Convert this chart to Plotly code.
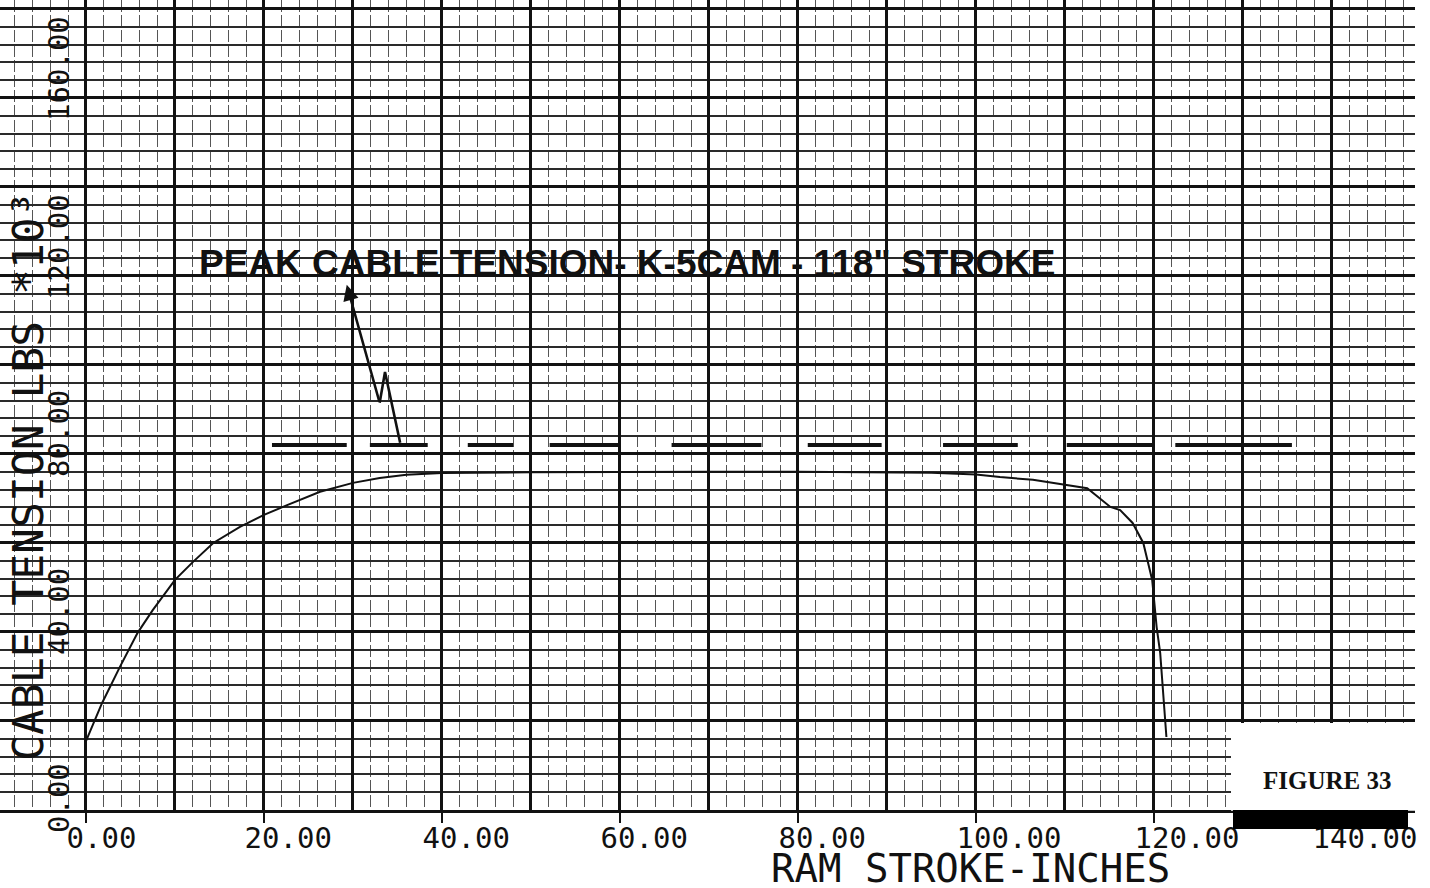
import plotly.graph_objects as go

# ---------------- data ----------------
stroke_in = [0, 1.8, 3.8, 5.8, 7.5, 10, 12, 14.3, 17.3, 20, 22.6, 26.3, 30, 33, 36, 40,
             50, 60, 70, 80, 90, 95, 100, 102.7, 106.4, 110.2, 112.5, 115.1, 116.2,
             117.6, 118.8, 119.8, 120.3, 120.7, 121.0, 121.4]
tension_klb = [15.5, 24.0, 32.1, 39.8, 44.9, 51.7, 55.7, 60.0, 63.6, 66.3, 68.5, 71.5, 73.5,
               74.6, 75.3, 75.7, 75.9, 76.0, 76.0, 76.0, 75.9, 75.8, 75.4, 74.8, 74.2,
               73.0, 72.3, 68.1, 67.4, 64.5, 60.0, 51.7, 41.1, 35.3, 26.3, 16.4]

peak_tension = 82.0
peak_dash_start = [20.9, 31.9, 42.9, 52.1, 65.8, 81.1, 96.3, 110.2, 122.4]
peak_dash_end = [29.3, 38.4, 48.0, 60.0, 75.9, 89.4, 104.7, 119.9, 135.5]

x_tick_vals = [0, 20, 40, 60, 80, 100, 120, 140]
x_tick_labels = ["0.00", "20.00", "40.00", "60.00", "80.00", "100.00", "120.00", "140.00"]
y_tick_vals = [0, 40, 80, 120, 160]
y_tick_labels = ["0.00", "40.00", "80.00", "120.00", "160.00"]

x_title = "RAM STROKE-INCHES"
y_title = "CABLE TENSION LBS *10\u00b3"
note_text = "PEAK CABLE TENSION- K-5CAM - 118\" STROKE"
figure_label = "FIGURE 33"

# ---------------- geometry ----------------
W, H = 1430, 888
ML, MR, MT, MB = 0, 15, 0, 78
PW = W - ML - MR
PH = H - MT - MB
X_RANGE = [-9.66, 149.33]
Y_RANGE = [0, 182.0]

NB = "\u00a0"
def pad(s):
    return s + NB * (6 - len(s))

# heavy grid every 10 in x, labels every 20
xg_vals = list(range(-10, 151, 10))
xg_text = [pad(x_tick_labels[x_tick_vals.index(v)]) if v in x_tick_vals else "" for v in xg_vals]
yg_vals = list(range(0, 181, 20))
yg_text = [pad(y_tick_labels[y_tick_vals.index(v)]) if v in y_tick_vals else "" for v in yg_vals]

MONO = "DejaVu Sans Mono"
INK = "#111111"

fig = go.Figure()

fig.add_trace(go.Scatter(
    x=stroke_in, y=tension_klb, mode="lines",
    line=dict(color=INK, width=2), xaxis="x", yaxis="y", hoverinfo="skip",
    showlegend=False))

px_, py_ = [], []
for a, b in zip(peak_dash_start, peak_dash_end):
    px_ += [a, b, None]
    py_ += [peak_tension, peak_tension, None]
fig.add_trace(go.Scatter(
    x=px_, y=py_, mode="lines", line=dict(color=INK, width=4),
    xaxis="x2", yaxis="y", hoverinfo="skip", showlegend=False))

fig.update_layout(
    width=W, height=H,
    margin=dict(l=ML, r=MR, t=MT, b=MB, pad=0, autoexpand=False),
    paper_bgcolor="white", plot_bgcolor="white",
    showlegend=False,
    xaxis=dict(
        range=X_RANGE, tickmode="array", tickvals=xg_vals, ticktext=xg_text,
        ticks="", showgrid=True, gridcolor=INK, gridwidth=2.6, zeroline=False,
        showline=True, linecolor=INK, linewidth=2.6, automargin=False,
        tickfont=dict(family=MONO, size=29, color=INK),
        ticklabelshift=33, ticklabelstandoff=0,
        minor=dict(dtick=2, tick0=0, showgrid=True, gridcolor="#555555",
                   gridwidth=1.3, griddash="12px,3px"),
    ),
    xaxis2=dict(
        overlaying="x", matches="x", anchor="y", side="bottom",
        tickmode="array", tickvals=x_tick_vals, ticks="outside", ticklen=12,
        tickwidth=2.4, tickcolor=INK, showticklabels=False, showgrid=False,
        zeroline=False, showline=False, automargin=False,
    ),
    yaxis=dict(
        range=Y_RANGE, tickmode="array", tickvals=yg_vals, ticktext=yg_text,
        ticks="", showgrid=True, gridcolor=INK, gridwidth=2.6, zeroline=False,
        anchor="free", position=86 / PW, tickangle=-90, automargin=False,
        tickfont=dict(family=MONO, size=29, color=INK),
        ticklabelshift=-25, ticklabelstandoff=11,
        minor=dict(dtick=4, tick0=0, showgrid=True, gridcolor="#2a2a2a",
                   gridwidth=1.6, griddash="solid"),
    ),
)

# white box for figure label and black bar
fig.add_shape(type="rect", xref="paper", yref="paper",
              x0=1231 / PW, x1=1.02, y0=-0.001, y1=(810 - 723) / PH,
              fillcolor="white", line=dict(width=0), layer="above")
fig.add_shape(type="rect", xref="paper", yref="paper",
              x0=1233 / PW, x1=1408 / PW, y0=-19 / PH, y1=0,
              fillcolor="black", line=dict(width=0), layer="above")

# hand-drawn arrow
fig.add_annotation(x=29.3, y=118.0, ax=33.0, ay=91.5, xref="x", yref="y",
                   axref="x", ayref="y", text="", showarrow=True,
                   arrowhead=2, arrowsize=1.2, arrowwidth=2.6, arrowcolor=INK)
fig.add_shape(type="path", xref="x", yref="y",
              path="M 33.0 91.5 L 33.6 98.4 L 35.3 82.5",
              line=dict(color=INK, width=2.6))

fig.add_annotation(x=60.8, y=122.8, xref="x", yref="y", text="<b>" + note_text + "</b>",
                   showarrow=False, xanchor="center", yanchor="middle",
                   font=dict(family="Liberation Sans", size=37, color=INK))

fig.add_annotation(x=1327 / PW, y=30 / PH, xref="paper", yref="paper",
                   text="<b>" + figure_label + "</b>", showarrow=False,
                   xanchor="center", yanchor="middle",
                   font=dict(family="Liberation Serif", size=25, color=INK))

fig.add_annotation(x=970 / PW, y=-(868 - 810) / PH, xref="paper", yref="paper",
                   text=x_title, showarrow=False, xanchor="center", yanchor="middle",
                   height=38, valign="middle", borderpad=0,
                   font=dict(family=MONO, size=39, color=INK))

fig.add_annotation(x=28 / PW, y=(810 - 476) / PH, xref="paper", yref="paper",
                   text=y_title, showarrow=False, textangle=-90,
                   xanchor="center", yanchor="middle",
                   font=dict(family=MONO, size=43, color=INK))

fig.write_html("out.html",
               config={"displayModeBar": False},
               post_script="document.body.style.margin='0px';document.body.style.overflow='hidden';")
